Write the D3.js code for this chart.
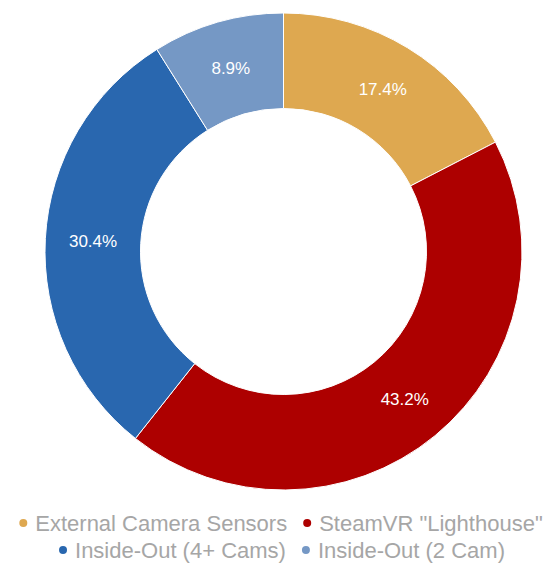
<!DOCTYPE html>
<html><head><meta charset="utf-8">
<script src="https://cdn.jsdelivr.net/npm/d3@7"></script>
<style>body{margin:0;background:#fff;}svg{display:block;font-family:"Liberation Sans",Arial,sans-serif;}</style>
</head><body>
<svg id="chart" width="560" height="564"></svg>
<script>
const categories = ["External Camera Sensors", "SteamVR \"Lighthouse\"", "Inside-Out (4+ Cams)", "Inside-Out (2 Cam)"];
const values = [17.4, 43.2, 30.4, 8.9];
const colors = ["#DEA850", "#AD0000", "#2967AF", "#7598C5"];
const legendRows = [[0, 1], [2, 3]];

const svg = d3.select("#chart");
const cx = 283.5, cy = 251.5, rOuter = 238.5, rInner = 143;
const g = svg.append("g").attr("transform", `translate(${cx},${cy})`);
const pie = d3.pie().sort(null).value(d => d)(values);
const arc = d3.arc().innerRadius(rInner).outerRadius(rOuter);
g.selectAll("path").data(pie).join("path")
  .attr("d", arc).attr("fill", (d, i) => colors[i])
  .attr("stroke", "#fff").attr("stroke-width", 1);
g.selectAll("text").data(pie).join("text")
  .attr("transform", d => `translate(${arc.centroid(d)})`)
  .attr("text-anchor", "middle").attr("dy", "0.35em")
  .attr("fill", "#fff").attr("font-size", 17)
  .text(d => d.data.toFixed(1) + "%");

const rowBase = [531, 558];
const rowCx = [281, 282];
legendRows.forEach((row, ri) => {
  const lg = svg.append("g");
  let x = 0;
  row.forEach((ci, k) => {
    const item = lg.append("g").attr("transform", `translate(${x},0)`);
    item.append("circle").attr("cx", 4).attr("cy", -8).attr("r", 4).attr("fill", colors[ci]);
    const t = item.append("text").attr("x", 16).attr("y", 0)
      .attr("font-size", 22).attr("fill", "#A6A6A6").text(categories[ci]);
    x += 16 + t.node().getComputedTextLength() + 16;
  });
  const w = x - 16;
  lg.attr("transform", `translate(${rowCx[ri] - w / 2},${rowBase[ri]})`);
});
</script>
</body></html>
